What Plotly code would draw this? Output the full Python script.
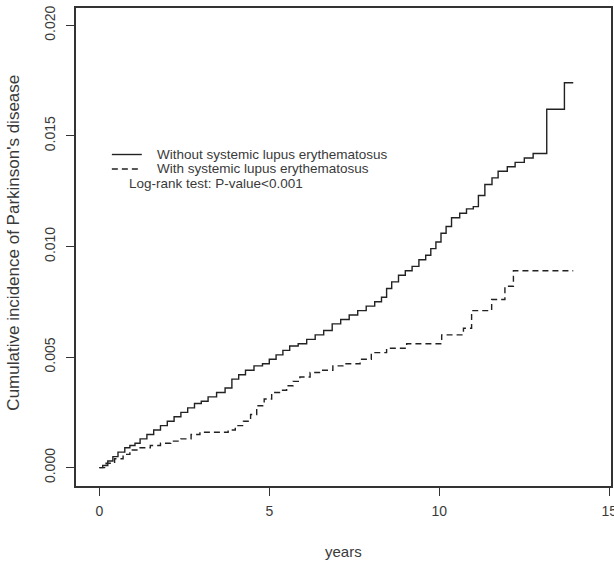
import plotly.graph_objects as go

# Without SLE (solid)
years_without = [0, 0.1, 0.25, 0.4, 0.55, 0.75, 0.9, 1.05, 1.2, 1.4, 1.6, 1.8, 2.0, 2.2, 2.4, 2.6,
                 2.8, 3.0, 3.2, 3.45, 3.7, 3.9, 4.1, 4.3, 4.55, 4.8, 5.0, 5.2, 5.4, 5.6, 5.85,
                 6.1, 6.35, 6.6, 6.85, 7.1, 7.35, 7.6, 7.85, 8.1, 8.3, 8.45, 8.6, 8.8, 9.0,
                 9.2, 9.4, 9.6, 9.75, 9.9, 10.05, 10.2, 10.36, 10.6, 10.8, 11.0, 11.15,
                 11.34, 11.55, 11.73, 12.0, 12.23, 12.5, 12.76, 13.16, 13.68, 13.94]
incidence_without = [0, 0.0001, 0.0003, 0.0005, 0.0007, 0.0009, 0.0010, 0.0011, 0.0013, 0.0015,
                     0.0017, 0.0019, 0.0021, 0.0023, 0.0025, 0.0027, 0.0029, 0.0030, 0.0032,
                     0.0034, 0.0036, 0.0040, 0.0042, 0.0044, 0.0046, 0.0047, 0.0049, 0.0051,
                     0.0053, 0.0055, 0.0056, 0.0058, 0.0060, 0.0062, 0.0065, 0.0067, 0.0069,
                     0.0071, 0.0073, 0.0075, 0.0077, 0.0081, 0.0084, 0.0087, 0.0089, 0.0091,
                     0.0094, 0.0096, 0.0099, 0.0102, 0.0106, 0.0109, 0.0113, 0.0115, 0.0117,
                     0.0118, 0.0123, 0.0128, 0.0131, 0.0134, 0.0136, 0.0138, 0.0140, 0.0142,
                     0.0162, 0.0174, 0.0174]

# With SLE (dashed)
years_with = [0, 0.2, 0.45, 0.7, 0.9, 1.2, 1.5, 1.8, 2.1, 2.4, 2.7, 2.96, 3.79, 4.0, 4.24, 4.45,
              4.63, 4.85, 5.07, 5.3, 5.51, 5.7, 5.9, 6.2, 6.5, 6.87, 7.2, 7.67, 8.0, 8.45,
              9.04, 10.07, 10.71, 10.95, 11.54, 11.93, 12.18, 13.94]
incidence_with = [0, 0.0002, 0.0004, 0.0006, 0.0008, 0.0009, 0.0010, 0.0011, 0.0012, 0.0013,
                  0.0015, 0.0016, 0.0017, 0.0019, 0.0021, 0.0024, 0.0028, 0.0031, 0.0034,
                  0.0035, 0.0037, 0.0039, 0.0041, 0.0043, 0.0044, 0.0046, 0.0047, 0.0049,
                  0.0052, 0.0054, 0.0056, 0.0060, 0.0063, 0.0071, 0.0076, 0.0082, 0.0089,
                  0.0089]

x_ticks = [0, 5, 10, 15]
y_ticks = [0.000, 0.005, 0.010, 0.015, 0.020]
y_tick_text = ["0.000", "0.005", "0.010", "0.015", "0.020"]

legend_labels = ["Without systemic lupus erythematosus", "With systemic lupus erythematosus"]
note_text = "Log-rank test: P-value<0.001"
x_title = "years"
y_title = "Cumulative incidence of Parkinson's disease"

FONT = "Liberation Sans, Arial, sans-serif"
INK = "#222222"
TXT = "#3a3a3a"

fig = go.Figure()
fig.add_trace(go.Scatter(x=years_without, y=incidence_without, mode="lines",
                         line=dict(color=INK, width=1.4, shape="hv"), showlegend=False))
fig.add_trace(go.Scatter(x=years_with, y=incidence_with, mode="lines",
                         line=dict(color=INK, width=1.4, shape="hv", dash="6px,4px"),
                         showlegend=False))

axis_common = dict(showgrid=False, zeroline=False, showline=True, linecolor="#333333",
                   linewidth=1.5, mirror=True, ticks="outside", ticklen=8, tickwidth=1.2,
                   tickcolor="#333333", automargin=False, ticklabeloverflow="allow",
                   tickfont=dict(family=FONT, size=14, color=TXT))

fig.update_xaxes(range=[-0.685, 15.05], tickvals=x_ticks, ticktext=[str(v) for v in x_ticks],
                 ticklabelstandoff=3, **axis_common)
fig.update_yaxes(range=[-0.00083, 0.02078], tickvals=y_ticks, ticktext=y_tick_text, tickangle=-90,
                 ticklabelstandoff=6, **axis_common)

# axis titles
fig.add_annotation(xref="paper", yref="paper", x=0.5, y=-0.138, text=x_title, showarrow=False,
                   xanchor="center", yanchor="middle", font=dict(family=FONT, size=15, color=TXT))
fig.add_annotation(xref="paper", yref="paper", x=-0.117, y=0.51, text=y_title, showarrow=False,
                   textangle=-90, xanchor="center", yanchor="middle",
                   font=dict(family=FONT, size=17, color=TXT))

# manual legend (R style)
legend_y = [0.6935, 0.6632]
dashes = ["solid", "6px,4px"]
for yy, lab, d in zip(legend_y, legend_labels, dashes):
    fig.add_shape(type="line", xref="paper", yref="paper", x0=0.067, x1=0.123, y0=yy, y1=yy,
                  line=dict(color=INK, width=1.4, dash=d))
    fig.add_annotation(xref="paper", yref="paper", x=0.147, y=yy, text=lab, showarrow=False,
                       xanchor="left", yanchor="middle",
                       font=dict(family=FONT, size=13.5, color=TXT))
fig.add_annotation(xref="paper", yref="paper", x=0.095, y=0.633, text=note_text, showarrow=False,
                   xanchor="left", yanchor="middle", font=dict(family=FONT, size=13.5, color=TXT))

fig.update_layout(width=614, height=563, margin=dict(l=76, r=3, t=8, b=77),
                  plot_bgcolor="white", paper_bgcolor="white")

# remove the browser's default 8px body margin so the figure fills the window
fig.write_html("out.html", config={"displayModeBar": False},
               post_script="document.body.style.margin='0';")
